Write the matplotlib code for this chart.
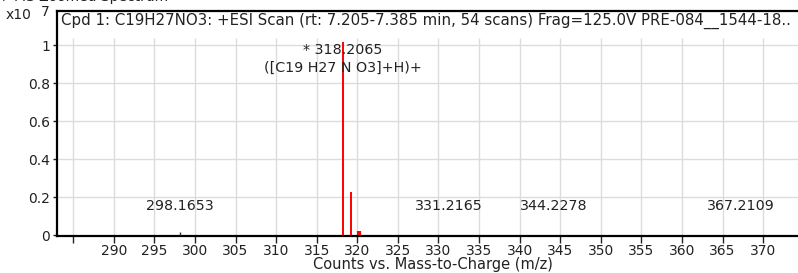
import matplotlib.pyplot as plt
import numpy as np

plt.rcParams['font.family'] = ['DejaVu Sans']

# peaks (x10^7 counts)
mz_red = [318.2065, 319.2095, 320.2120]
int_red = [1.015, 0.226, 0.022]
mz_black = [298.1653, 331.2165, 344.2278, 367.2109]
int_black = [0.015, 0.003, 0.003, 0.003]
peak_labels = ['298.1653', '331.2165', '344.2278', '367.2109']

main_label = ['* 318.2065', '([C19 H27 N O3]+H)+']
title = 'Cpd 1: C19H27NO3: +ESI Scan (rt: 7.205-7.385 min, 54 scans) Frag=125.0V PRE-084__1544-18..'

xticks = np.arange(285, 371, 5)
yticks = [0, 0.2, 0.4, 0.6, 0.8, 1]
ytick_labels = ['0', '0.2', '0.4', '0.6', '0.8', '1']

W, H = 798, 273
fs = 10
txt_c = '#222222'
fig = plt.figure(figsize=(W / 100, H / 100), dpi=100)
ax = fig.add_axes([57 / W, 1 - 236 / H, 1 - 57 / W, (236 - 11) / H])

ax.set_xlim(283.0, 374.3)
ax.set_ylim(-0.004, 1.18)

grid_c = '#dcdcdc'
for y in yticks[1:]:
    ax.axhline(y, color=grid_c, lw=1.0, zorder=0)
ax.vlines(xticks, 0, 1.037, color=grid_c, lw=1.0, zorder=0)

ax.vlines(mz_red, 0, int_red, color='#ff0000', lw=1.4, zorder=3)
ax.vlines(mz_red[2], 0, int_red[2], color='#ff0000', lw=3.0, zorder=3)
ax.vlines(mz_black, 0, int_black, color='#333333', lw=1.0, zorder=3)

for mz, lab in zip(mz_black, peak_labels):
    ax.text(mz, 0.155, lab, ha='center', va='center', fontsize=10.3, color=txt_c)

ax.text(mz_red[0], 0.975, main_label[0], ha='center', va='center', fontsize=10.3, color=txt_c)
ax.text(mz_red[0], 0.88, main_label[1], ha='center', va='center', fontsize=10.3, color=txt_c)

ax.text(0.005, 0.955, title, transform=ax.transAxes, ha='left', va='center',
        fontsize=10.85, color=txt_c)

ax.set_xticks(xticks)
ax.set_xticklabels(['' if x == 285 else str(x) for x in xticks])
ax.set_yticks(yticks)
ax.set_yticklabels(ytick_labels)
ax.tick_params(axis='x', direction='out', length=5, width=1, labelsize=fs,
               colors=txt_c, pad=1)
ax.tick_params(axis='y', direction='out', length=3, width=1, labelsize=fs,
               colors=txt_c, pad=2)

for side in ['left', 'top', 'bottom']:
    ax.spines[side].set_linewidth(1.6)
    ax.spines[side].set_color('black')
ax.spines['right'].set_visible(False)

fig.text(433 / W, 1 - 265 / H, 'Counts vs. Mass-to-Charge (m/z)', ha='center', va='center',
         fontsize=10.5, color=txt_c)
fig.text(6 / W, 1 - 15 / H, 'x10', ha='left', va='center', fontsize=fs, color=txt_c)
fig.text(41 / W, 1 - 12 / H, '7', ha='left', va='center', fontsize=fs, color=txt_c)
fig.text(-2 / W, 1 + 3.5 / H, '+ MS Zoomed Spectrum', ha='left', va='center', fontsize=fs,
         color=txt_c)

fig.savefig('out.png', dpi=100)
